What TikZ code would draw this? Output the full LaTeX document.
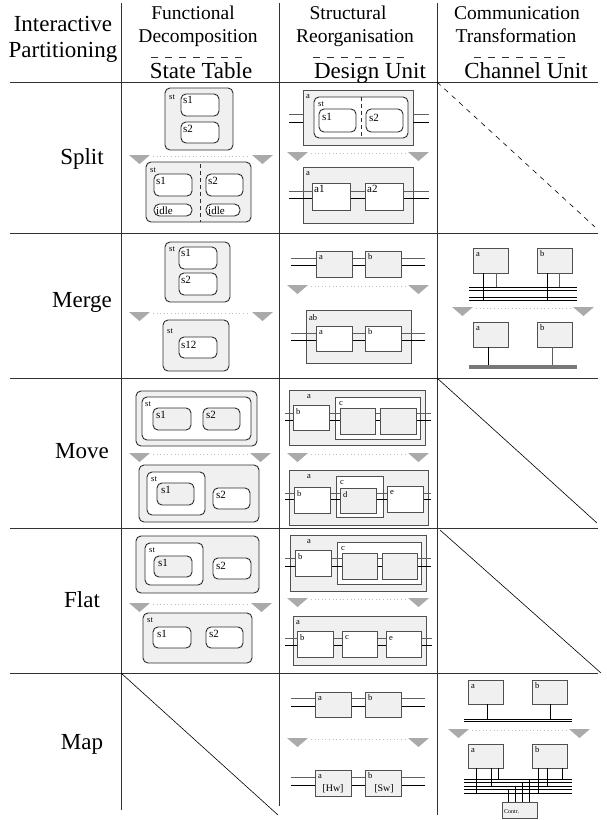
\documentclass[tikz,border=0pt]{standalone}
\usepackage{fontspec}
\setmainfont{Liberation Serif}
\usepackage{tikz}
\usetikzlibrary{positioning}
\definecolor{BoxGray}{RGB}{240,240,240}
\definecolor{EdgeDark}{RGB}{45,45,45}
\definecolor{EdgeGray}{RGB}{80,80,80}
\definecolor{WireGray}{RGB}{95,95,95}
\definecolor{TurnGray}{RGB}{170,170,170}
\definecolor{DotGray}{RGB}{190,190,190}
\definecolor{RuleGray}{RGB}{50,50,50}
\definecolor{BusGray}{RGB}{120,120,120}
\tikzset{
  rulel/.style={draw=RuleGray, line width=0.8pt},
  headdash/.style={draw=RuleGray, line width=0.9pt, dash pattern=on 7pt off 7pt},
  stgray/.style={draw=EdgeDark, fill=BoxGray, line width=0.9pt, rounded corners=5pt},
  stwhite/.style={draw=EdgeDark, fill=white, line width=0.9pt, rounded corners=5pt},
  dugray/.style={draw=EdgeGray, fill=BoxGray, line width=1pt},
  duwhite/.style={draw=EdgeGray, fill=white, line width=1pt},
  stcut/.style={draw=EdgeDark, line width=0.9pt, dash pattern=on 4pt off 3pt},
  wireup/.style={draw=WireGray, line width=0.8pt},
  wirelow/.style={draw=black, line width=0.8pt},
  sepdots/.style={draw=DotGray, line width=0.6pt, dash pattern=on 0.6pt off 3pt},
  diagline/.style={draw=black, line width=0.6pt},
  headtext/.style={anchor=base, inner sep=0pt, font=\fontsize{23}{25}\selectfont},
  subtext/.style={anchor=base, inner sep=0pt, font=\fontsize{19.5}{21}\selectfont},
  lbl/.style={anchor=base west, inner sep=0pt, font=\fontsize{11}{12}\selectfont},
  tag/.style={anchor=base west, inner sep=0pt, font=\fontsize{8.5}{9}\selectfont},
}
% grey turn marks with the dotted line between them
\newcommand{\turnsep}[3]{%
  \fill[TurnGray] (#2,#1) -- ++(21,0) -- ++(-10.5,9) -- cycle;
  \fill[TurnGray] (#3,#1) -- ++(-21,0) -- ++(10.5,9) -- cycle;
  \draw[sepdots] (#2,#1) ++(24,1.5) -- ++({#3-#2-48},0);
}
% pair of channel wires
\newcommand{\wires}[4]{%
  \draw[wireup] (#1,#3) -- (#2,#3);
  \draw[wirelow] (#1,#4) -- (#2,#4);
}
\begin{document}
\begin{tikzpicture}[x=1pt,y=-1pt]
  \path[use as bounding box] (0,0) rectangle (606,820);

  % table rules
  \draw[rulel] (121,3) -- (121,810);
  \draw[rulel] (279,3) -- (279,806);
  \draw[rulel] (437,3) -- (437,815);
  \foreach \yy in {82,233,378,528,673}
    \draw[rulel] (10,\yy) -- (598,\yy);

  % column heads
  \node[headtext] (hInter) at (63,31) {Interactive};
  \node[headtext] (hPart) at (63,57) {Partitioning};
  \node[subtext] (hFunc) at (193,19) {Functional};
  \node[subtext] (hDecomp) at (198,42) {Decomposition};
  \draw[headdash] (151,57) -- (245,57);
  \node[headtext] (hState) at (201,78) {State Table};
  \node[subtext] (hStruct) at (348,19) {Structural};
  \node[subtext] (hReorg) at (355,42) {Reorganisation};
  \draw[headdash] (313,57) -- (407,57);
  \node[headtext] (hDesign) at (370,78) {Design Unit};
  \node[subtext] (hComm) at (517,19) {Communication};
  \node[subtext] (hTrans) at (516,42) {Transformation};
  \draw[headdash] (474,57) -- (568,57);
  \node[headtext] (hChannel) at (526,78) {Channel Unit};

  % row heads
  \node[headtext] (rSplit) at (82,164) {Split};
  \node[headtext] (rMerge) at (82,307) {Merge};
  \node[headtext] (rMove) at (82,458) {Move};
  \node[headtext] (rFlat) at (82,607) {Flat};
  \node[headtext] (rMap) at (82,749) {Map};

  % Split / state table
  \draw[stgray] (165,88) rectangle (233,150);
  \node[tag] (spSt) at (169,99) {st};
  \draw[stwhite] (181,94) rectangle (219,116);
  \node[lbl] (spS1) at (183,103) {s1};
  \draw[stwhite] (181,122) rectangle (219,143);
  \node[lbl] (spS2) at (183,132) {s2};
  \turnsep{155}{129}{273}
  \draw[stgray] (146,162) rectangle (251,222);
  \node[tag] (spStB) at (150,172) {st};
  \draw[stcut] (200,164) -- (200,222);
  \draw[stwhite] (154,174) rectangle (192,196);
  \node[lbl] (spS1B) at (156,184) {s1};
  \draw[stwhite] (206,174) rectangle (243,196);
  \node[lbl] (spS2B) at (208,184) {s2};
  \draw[stwhite, rounded corners=5.5pt] (154,204) rectangle (192,216);
  \node[lbl] (spIdleA) at (156,214) {idle};
  \draw[stwhite, rounded corners=5.5pt] (206,204) rectangle (240,216);
  \node[lbl] (spIdleB) at (208,214) {idle};

  % Split / design unit
  \draw[dugray] (303,90) rectangle (413,145);
  \node[tag] (spA) at (306,98) {a};
  \wires{289}{303}{114}{122}
  \wires{413}{429}{114}{122}
  \draw[stwhite] (314,97) rectangle (408,138);
  \node[tag] (spStD) at (318,106) {st};
  \draw[stcut] (361,97) -- (361,138);
  \draw[stwhite] (319,109) rectangle (356,132);
  \node[lbl] (spS1D) at (322,120) {s1};
  \draw[stwhite] (366,109) rectangle (403,132);
  \node[lbl] (spS2D) at (369,121) {s2};
  \turnsep{152}{287}{429}
  \draw[dugray] (303,167) rectangle (413,223);
  \node[tag] (spAB) at (306,175) {a};
  \wires{289}{312}{191}{198}
  \wires{350}{365}{191}{198}
  \wires{403}{429}{191}{198}
  \draw[duwhite] (312,183) rectangle (350,210);
  \node[lbl] (spA1) at (314,192) {a1};
  \draw[duwhite] (365,183) rectangle (403,210);
  \node[lbl] (spA2) at (367,192) {a2};

  % Split / channel unit
  \draw[diagline, dash pattern=on 5pt off 5pt] (437,82) -- (595,227);

  % Merge / state table
  \draw[stgray] (165,242) rectangle (230,302);
  \node[tag] (mgSt) at (169,251) {st};
  \draw[stwhite] (179,247) rectangle (217,269);
  \node[lbl] (mgS1) at (181,256) {s1};
  \draw[stwhite] (179,273) rectangle (217,295);
  \node[lbl] (mgS2) at (181,283) {s2};
  \turnsep{312}{129}{273}
  \draw[stgray] (163,320) rectangle (229,371);
  \node[tag] (mgStB) at (167,333) {st};
  \draw[stwhite] (179,337) rectangle (217,358);
  \node[lbl] (mgS12) at (181,348) {s12};

  % Merge / design unit
  \wires{291}{316}{258}{265}
  \wires{352}{365}{258}{265}
  \wires{401}{425}{258}{265}
  \draw[dugray] (316,251) rectangle (352,277);
  \node[tag] (mgA) at (319,259) {a};
  \draw[dugray] (365,251) rectangle (401,277);
  \node[tag] (mgB) at (368,259) {b};
  \turnsep{285}{287}{429}
  \draw[dugray] (306,310) rectangle (411,363);
  \node[tag] (mgAB) at (309,320) {ab};
  \wires{291}{316}{333}{340}
  \wires{352}{365}{333}{340}
  \wires{401}{425}{333}{340}
  \draw[duwhite] (316,326) rectangle (352,351);
  \node[tag] (mgAW) at (319,334) {a};
  \draw[duwhite] (365,326) rectangle (401,351);
  \node[tag] (mgBW) at (368,334) {b};

  % Merge / channel unit
  \draw[dugray] (473,248) rectangle (508,273);
  \node[tag] (mgCA) at (476,256) {a};
  \draw[dugray] (537,248) rectangle (572,273);
  \node[tag] (mgCB) at (540,256) {b};
  \draw[wirelow] (483,273) -- (483,300);
  \draw[wireup] (496,273) -- (496,287);
  \draw[wirelow] (547,273) -- (547,300);
  \draw[wireup] (559,273) -- (559,287);
  \draw[wirelow] (469,287) -- (577,287) (469,290) -- (577,290);
  \draw[wirelow] (469,297) -- (577,297) (469,300) -- (577,300);
  \turnsep{307}{452}{594}
  \draw[dugray] (473,322) rectangle (508,347);
  \node[tag] (mgCA2) at (476,330) {a};
  \draw[dugray] (537,322) rectangle (572,347);
  \node[tag] (mgCB2) at (540,330) {b};
  \draw[wirelow] (488,347) -- (488,366);
  \draw[wireup] (552,347) -- (552,366);
  \fill[BusGray] (469,365) rectangle (577,369);

  % Move / state table
  \draw[stgray] (136,391) rectangle (257,446);
  \draw[stwhite] (142,397) rectangle (251,440);
  \node[tag] (mvSt) at (145,406) {st};
  \draw[stgray] (153,408) rectangle (191,430);
  \node[lbl] (mvS1) at (156,418) {s1};
  \draw[stgray] (203,408) rectangle (240,430);
  \node[lbl] (mvS2) at (206,418) {s2};
  \turnsep{453}{129}{271}
  \draw[stgray] (139,465) rectangle (259,522);
  \draw[stwhite] (147,472) rectangle (205,515);
  \node[tag] (mvStB) at (151,481) {st};
  \draw[stgray] (157,483) rectangle (194,505);
  \node[lbl] (mvS1B) at (161,493) {s1};
  \draw[stwhite] (213,488) rectangle (250,509);
  \node[lbl] (mvS2B) at (216,498) {s2};

  % Move / design unit
  \draw[dugray] (289,390) rectangle (425,445);
  \node[tag] (mvA) at (307,398) {a};
  \draw[duwhite] (335,397) rectangle (420,439);
  \node[tag] (mvC) at (339,405) {c};
  \wires{285}{293}{413}{420}
  \wires{329}{340}{413}{420}
  \wires{375}{380}{413}{420}
  \wires{416}{431}{413}{420}
  \draw[duwhite] (293,405) rectangle (329,430);
  \node[tag] (mvB) at (296,414) {b};
  \draw[dugray] (340,408) rectangle (375,434);
  \draw[dugray] (380,408) rectangle (416,434);
  \turnsep{453}{287}{429}
  \draw[dugray] (289,470) rectangle (428,525);
  \node[tag] (mvAB) at (307,478) {a};
  \draw[duwhite] (336,476) rectangle (383,517);
  \node[tag] (mvCB) at (340,484) {c};
  \wires{285}{294}{493}{499}
  \wires{330}{340}{493}{499}
  \wires{376}{387}{493}{499}
  \wires{423}{431}{493}{499}
  \draw[duwhite] (294,487) rectangle (330,513);
  \node[tag] (mvBB) at (297,496) {b};
  \draw[dugray] (340,488) rectangle (376,513);
  \node[tag] (mvD) at (343,497) {d};
  \draw[duwhite] (387,486) rectangle (423,512);
  \node[tag] (mvE) at (390,494) {e};

  % Move / channel unit
  \draw[diagline] (437,378) -- (597,523);

  % Flat / state table
  \draw[stgray] (136,536) rectangle (259,593);
  \draw[stwhite] (145,543) rectangle (203,585);
  \node[tag] (flSt) at (149,552) {st};
  \draw[stgray] (154,556) rectangle (192,577);
  \node[lbl] (flS1) at (158,566) {s1};
  \draw[stwhite] (213,558) rectangle (251,579);
  \node[lbl] (flS2) at (216,569) {s2};
  \turnsep{603}{129}{272}
  \draw[stgray] (143,613) rectangle (252,663);
  \node[tag] (flStB) at (147,622) {st};
  \draw[stwhite] (153,627) rectangle (191,648);
  \node[lbl] (flS1B) at (157,637) {s1};
  \draw[stwhite] (206,627) rectangle (243,648);
  \node[lbl] (flS2B) at (209,637) {s2};

  % Flat / design unit
  \draw[dugray] (290,535) rectangle (426,591);
  \node[tag] (flA) at (307,543) {a};
  \draw[duwhite] (337,542) rectangle (421,584);
  \node[tag] (flC) at (341,550) {c};
  \wires{285}{295}{558}{566}
  \wires{331}{342}{558}{566}
  \wires{377}{382}{558}{566}
  \wires{417}{431}{558}{566}
  \draw[duwhite] (295,550) rectangle (331,576);
  \node[tag] (flB) at (298,559) {b};
  \draw[dugray] (342,553) rectangle (377,579);
  \draw[dugray] (382,553) rectangle (417,579);
  \turnsep{598}{287}{429}
  \draw[dugray] (293,616) rectangle (426,665);
  \node[tag] (flAB) at (296,624) {a};
  \wires{285}{297}{638}{645}
  \wires{333}{342}{638}{645}
  \wires{377}{386}{638}{645}
  \wires{421}{432}{638}{645}
  \draw[duwhite] (297,631) rectangle (333,657);
  \node[tag] (flBB) at (300,640) {b};
  \draw[duwhite] (342,631) rectangle (377,657);
  \node[tag] (flCB) at (345,639) {c};
  \draw[duwhite] (386,631) rectangle (421,657);
  \node[tag] (flE) at (389,640) {e};

  % Flat / channel unit
  \draw[diagline] (440,530) -- (601,673);

  % Map / state table
  \draw[diagline] (121,673) -- (278,815);

  % Map / design unit
  \wires{291}{315}{698}{706}
  \wires{351}{365}{698}{706}
  \wires{401}{425}{698}{706}
  \draw[dugray] (315,692) rectangle (351,717);
  \node[tag] (mpA) at (318,700) {a};
  \draw[dugray] (365,692) rectangle (401,717);
  \node[tag] (mpB) at (368,700) {b};
  \turnsep{738}{287}{429}
  \wires{291}{315}{777}{785}
  \wires{351}{365}{777}{785}
  \wires{401}{425}{777}{785}
  \draw[dugray] (315,770) rectangle (351,796);
  \node[tag] (mpAB) at (318,778) {a};
  \node[anchor=base, inner sep=0pt, font=\fontsize{10}{11}\selectfont] (mpHw) at (333,791) {[Hw]};
  \draw[dugray] (365,770) rectangle (401,796);
  \node[tag] (mpBB) at (368,778) {b};
  \node[anchor=base, inner sep=0pt, font=\fontsize{10}{11}\selectfont] (mpSw) at (384,791) {[Sw]};

  % Map / channel unit
  \draw[dugray] (468,680) rectangle (503,704);
  \node[tag] (mpCA) at (471,688) {a};
  \draw[dugray] (532,680) rectangle (567,704);
  \node[tag] (mpCB) at (535,688) {b};
  \draw[wirelow] (487,704) -- (487,719);
  \draw[wirelow] (550,704) -- (550,719);
  \draw[wirelow] (464,719) -- (572,719) (464,721.5) -- (572,721.5);
  \turnsep{729}{448}{590}
  \draw[dugray] (468,744) rectangle (503,768);
  \node[tag] (mpCA2) at (471,752) {a};
  \draw[dugray] (532,744) rectangle (567,768);
  \node[tag] (mpCB2) at (535,752) {b};
  \foreach \yy in {779,782.5,786,789.5,793}
    \draw[wirelow, line width=0.7pt] (464,\yy) -- (572,\yy);
  \draw[wirelow] (476,768) -- (476,793) (491,768) -- (491,786) (498,768) -- (498,779);
  \draw[wirelow] (538,768) -- (538,793) (547,768) -- (547,786) (562,768) -- (562,779);
  \draw[wirelow] (508,802) -- (508,789.5) (515,802) -- (515,786)
    (522,802) -- (522,782.5) (529,802) -- (529,779);
  \draw[dugray] (502,802) rectangle (537,818);
  \node[anchor=base west, inner sep=0pt, font=\fontsize{6}{7}\selectfont] (mpContr) at (504,813) {Contr.};
\end{tikzpicture}
\end{document}
